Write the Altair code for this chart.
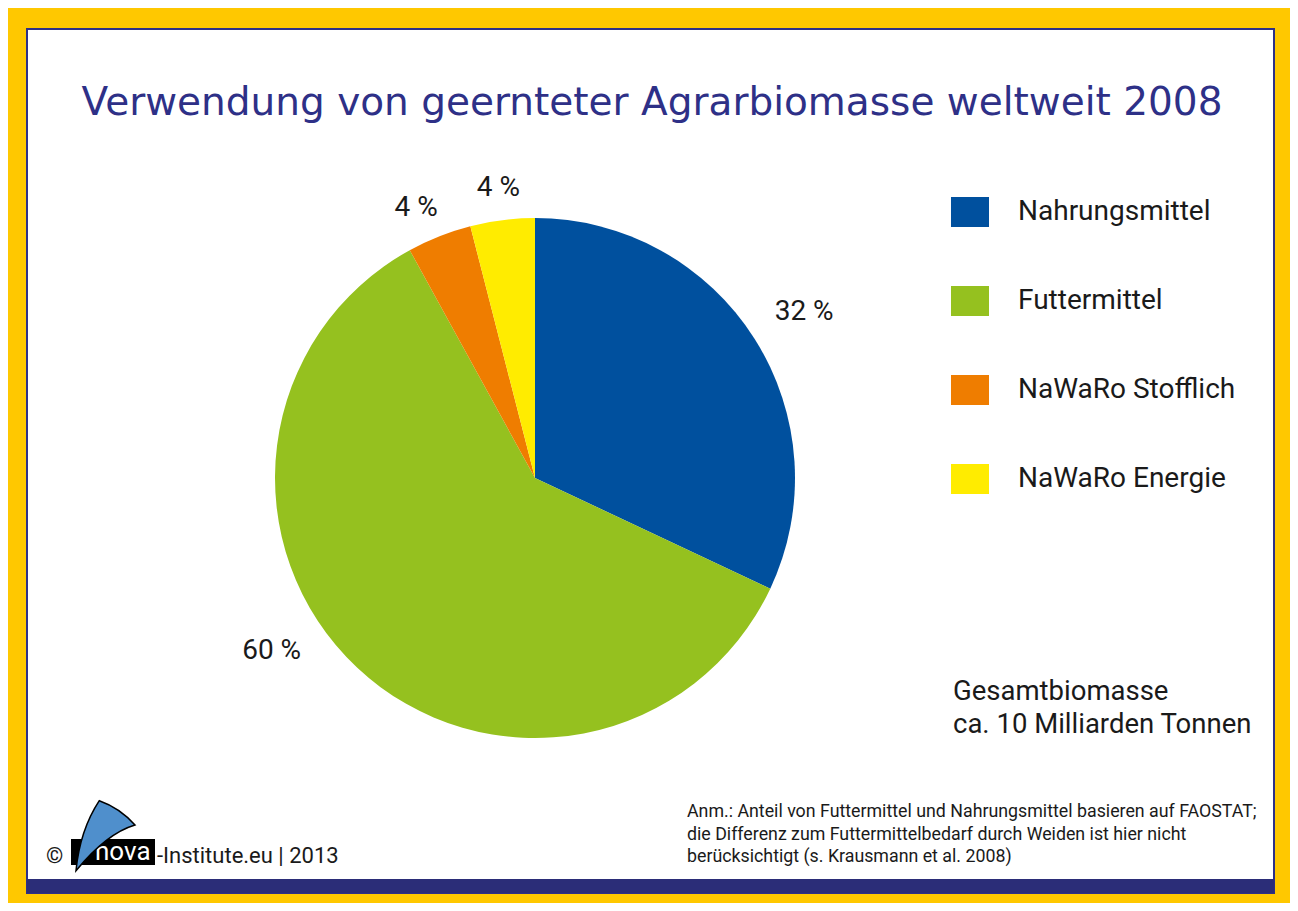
import altair as alt
import pandas as pd

# ---- data ----
categories = ["Nahrungsmittel", "Futtermittel", "NaWaRo Stofflich", "NaWaRo Energie"]
shares = [32, 60, 4, 4]
colors = ["#00509E", "#95C11F", "#EF7D00", "#FFEC00"]
title_text = "Verwendung von geernteter Agrarbiomasse weltweit 2008"
total_lines = ["Gesamtbiomasse", "ca. 10 Milliarden Tonnen"]
note_lines = [
    "Anm.: Anteil von Futtermittel und Nahrungsmittel basieren auf FAOSTAT;",
    "die Differenz zum Futtermittelbedarf durch Weiden ist hier nicht",
    "berücksichtigt (s. Krausmann et al. 2008)",
]

df = pd.DataFrame({"category": categories, "share": shares, "idx": list(range(len(categories)))})
cum = df["share"].cumsum()
df["mid"] = cum - df["share"] / 2
df["label"] = [f"{v} %" for v in shares]

FONT = "Roboto"
TXT = "#1a1a1a"
NAVY = "#2E3087"
CX, CY, R = 527, 470, 260

one = pd.DataFrame({"a": [0]})

panel = alt.Chart(one).mark_rect(fill="white", stroke=NAVY, strokeWidth=2).encode(
    x=alt.value(19), x2=alt.value(1266), y=alt.value(21), y2=alt.value(885)
)
bar = alt.Chart(one).mark_rect(fill="#2B2D78").encode(
    x=alt.value(19), x2=alt.value(1266), y=alt.value(871), y2=alt.value(885)
)
title = alt.Chart(one).mark_text(
    text=title_text, font="DejaVu Sans", fontSize=39, color=NAVY, align="center", baseline="alphabetic"
).encode(x=alt.value(644), y=alt.value(107))

pie = alt.Chart(df).mark_arc(outerRadius=R, stroke=None).encode(
    theta=alt.Theta("share:Q", stack=True, scale=alt.Scale(domain=[0, 100])),
    color=alt.Color(
        "category:N",
        sort=categories,
        scale=alt.Scale(domain=categories, range=colors),
        legend=alt.Legend(
            title=None, orient="none", legendX=947, legendY=189,
            symbolType="M-1.267,-1H1.267V1H-1.267Z", symbolSize=900,
            symbolStrokeWidth=0, symbolOpacity=1,
            labelFont=FONT, labelFontSize=28, labelColor=TXT,
            labelOffset=33, rowPadding=59, padding=0, labelLimit=400,
        ),
    ),
    order=alt.Order("idx:Q"),
    x=alt.value(CX), y=alt.value(CY),
)

label_style = {
    "Nahrungsmittel": (316, 0.014),
    "Futtermittel": (315, 0.236),
    "NaWaRo Stofflich": (295, -0.038),
    "NaWaRo Energie": (292, 0.0),
}
label_layers = []
for c in categories:
    rad, toff = label_style[c]
    label_layers.append(
        alt.Chart(df).transform_filter(alt.datum.category == c).mark_text(
            font=FONT, fontSize=28, color=TXT, radius=rad, thetaOffset=toff
        ).encode(
            theta=alt.Theta("mid:Q", stack=False, scale=alt.Scale(domain=[0, 100])),
            text="label:N",
            x=alt.value(CX), y=alt.value(CY),
        )
    )

total = alt.Chart(one).mark_text(
    text=total_lines, font=FONT, fontSize=27.5, color=TXT, align="left",
    baseline="alphabetic", lineHeight=33
).encode(x=alt.value(945), y=alt.value(692))

note = alt.Chart(one).mark_text(
    text=note_lines, font=FONT, fontSize=17.8, color=TXT, align="left",
    baseline="alphabetic", lineHeight=22.5
).encode(x=alt.value(679), y=alt.value(809))

copy = alt.Chart(one).mark_text(
    text="©", font=FONT, fontSize=22, color=TXT, align="left", baseline="alphabetic"
).encode(x=alt.value(38), y=alt.value(855))
logo_box = alt.Chart(one).mark_rect(fill="black").encode(
    x=alt.value(63), x2=alt.value(147), y=alt.value(831), y2=alt.value(857)
)
logo_text = alt.Chart(one).mark_text(
    text="nova", font=FONT, fontSize=26, color="white", align="left", baseline="alphabetic"
).encode(x=alt.value(87), y=alt.value(852))
sail = alt.Chart(one).mark_point(
    shape="M-0.806,0.964Q-0.694,-0.167,-0.158,-0.981Q0.417,-0.778,0.833,-0.306Q0.046,-0.074,-0.806,0.964Z",
    size=5184, filled=True, fill="#4F8FCC", stroke="black", strokeWidth=1.5, opacity=1,
).encode(x=alt.value(97), y=alt.value(828))
inst = alt.Chart(one).mark_text(
    text="-Institute.eu | 2013", font=FONT, fontSize=22, color=TXT, align="left", baseline="alphabetic"
).encode(x=alt.value(149), y=alt.value(855))

chart = alt.layer(
    panel, bar, title, pie, *label_layers, total, note, copy, logo_box, logo_text, sail, inst
).properties(
    width=1282, height=895, padding=0, autosize="none", background="#FFC800"
).configure_view(stroke=None)

chart.save("out.html", embed_options={"renderer": "svg", "actions": False})
